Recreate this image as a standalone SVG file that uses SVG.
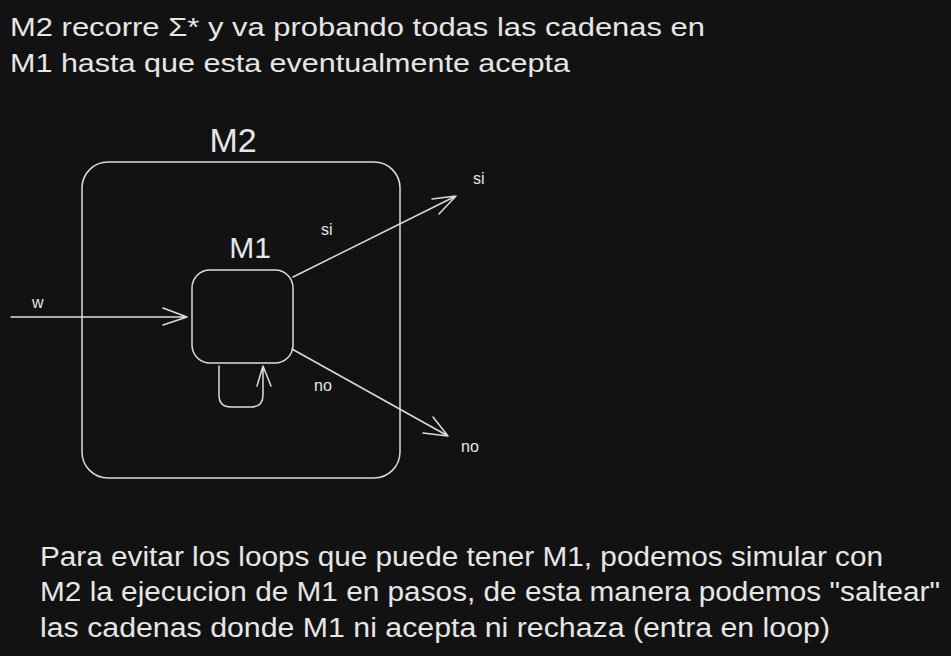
<svg xmlns="http://www.w3.org/2000/svg" width="951" height="656" viewBox="0 0 951 656">
<style>
  .t{font-family:"Liberation Sans",Arial,sans-serif;fill:#e6e6e6}
  .s{fill:none;stroke:#dcdcdc;stroke-width:1.5;stroke-linecap:round;stroke-linejoin:round}
</style>
<rect x="0" y="0" width="951" height="656" fill="#121212"/>
<g id="header">
  <text class="t" x="10" y="36" font-size="26" textLength="695" lengthAdjust="spacingAndGlyphs">M2 recorre Σ* y va probando todas las cadenas en</text>
  <text class="t" x="10" y="72" font-size="26" textLength="560" lengthAdjust="spacingAndGlyphs">M1 hasta que esta eventualmente acepta</text>
</g>
<g id="M2">
  <rect class="s" x="82" y="162" width="318" height="316" rx="26"/>
  <text class="t" x="233" y="152" font-size="34" text-anchor="middle">M2</text>
</g>
<g id="M1">
  <rect class="s" x="192" y="270" width="101" height="93" rx="18"/>
  <text class="t" x="250" y="258" font-size="30" text-anchor="middle">M1</text>
</g>
<g id="connectors">
  <path class="s" d="M11 317 L187 317 M163 308 L187 317 L163 325"/>
  <path class="s" d="M293 277 L456 196 M432 199 L456 196 L439 214"/>
  <path class="s" d="M292 349 L448 436 M423 433 L448 436 L433 417"/>
  <path class="s" d="M219 366 L219 395 Q219 407 231 407 L251 407 Q263 407 263 395 L263 366 M257 386 L263 366 L271 386"/>
</g>
<g id="labels">
  <text class="t" x="32" y="308" font-size="16">w</text>
  <text class="t" x="321" y="235" font-size="16">si</text>
  <text class="t" x="473" y="184" font-size="16">si</text>
  <text class="t" x="314" y="391" font-size="16">no</text>
  <text class="t" x="461" y="452" font-size="16">no</text>
</g>
<g id="footer">
  <text class="t" x="40" y="566" font-size="27" textLength="843" lengthAdjust="spacingAndGlyphs">Para evitar los loops que puede tener M1, podemos simular con</text>
  <text class="t" x="40" y="601" font-size="27" textLength="900" lengthAdjust="spacingAndGlyphs">M2 la ejecucion de M1 en pasos, de esta manera podemos "saltear"</text>
  <text class="t" x="40" y="637" font-size="27" textLength="790" lengthAdjust="spacingAndGlyphs">las cadenas donde M1 ni acepta ni rechaza (entra en loop)</text>
</g>
</svg>
